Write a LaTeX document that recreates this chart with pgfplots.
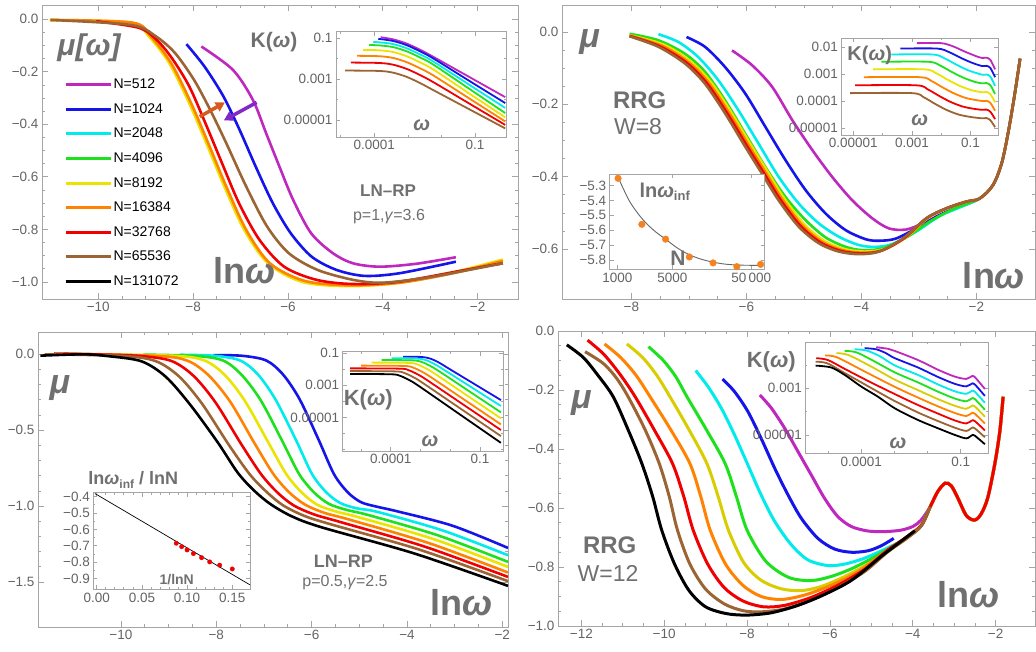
\documentclass[border=0pt]{standalone}
\usepackage{fontspec}
\setmainfont{Liberation Sans}
\usepackage{pgfplots}
\pgfplotsset{compat=1.18}
\usetikzlibrary{arrows.meta}
\newcommand\fs[1]{\fontsize{#1}{#1}\selectfont}
\definecolor{cM}{RGB}{190,40,190}
\definecolor{cB}{RGB}{20,20,235}
\definecolor{cC}{RGB}{0,235,235}
\definecolor{cG}{RGB}{30,225,30}
\definecolor{cY}{RGB}{235,228,0}
\definecolor{cYd}{RGB}{215,205,0}
\definecolor{cO}{RGB}{255,130,0}
\definecolor{cR}{RGB}{240,0,0}
\definecolor{cN}{RGB}{155,100,50}
\definecolor{cK}{RGB}{0,0,0}
\definecolor{txtC}{RGB}{112,112,112}
\definecolor{tickC}{RGB}{100,100,100}
\definecolor{frameC}{RGB}{165,165,165}
\definecolor{arrA}{RGB}{215,90,30}
\definecolor{arrP}{RGB}{130,40,200}
\definecolor{dotO}{RGB}{245,130,30}
\pgfplotsset{
  base/.style={scale only axis, anchor=south west,
    axis line style={draw=frameC, line width=0.9pt},
    every tick/.style={draw=frameC, line width=0.7pt},
    major tick length=6pt, minor tick length=3pt,
    tick label style={text=tickC, font=\fs{13.5}},
    axis background/.style={fill=white}},
  ins/.style={base, major tick length=4pt, minor tick length=2pt},
  L/.style={line width=2.6pt, smooth, no markers},
  Li/.style={line width=1.8pt, smooth, no markers},
}
\begin{document}
\begin{tikzpicture}
\path[use as bounding box] (0pt,0pt) rectangle (1036pt,-652pt);

% ================= Panel A =================
\begin{axis}[base, at={(42pt,-299pt)}, width=476pt, height=294pt,
  xmin=-11.185, xmax=-1.15, ymin=-1.065, ymax=0.054,
  xtick={-10,-8,-6,-4,-2}, xticklabels={−10,−8,−6,−4,−2},
  ytick={0,-0.2,-0.4,-0.6,-0.8,-1}, yticklabels={0.0,−0.2,−0.4,−0.6,−0.8,−1.0},
  minor x tick num=3, minor y tick num=3,
  legend style={draw=none, fill=none, at={(axis description cs:0.046,0.755)}, anchor=north west,
    font=\fs{14}, row sep=9.6pt, inner sep=0pt,
    nodes={inner sep=1.5pt, text height=10pt, text depth=2pt}},
  legend cell align=left,
  legend image code/.code={\draw[#1, line width=3pt] (0pt,0pt) -- (45pt,0pt);}]
\addlegendimage{cM}\addlegendentry{N=512}
\addlegendimage{cB}\addlegendentry{N=1024}
\addlegendimage{cC}\addlegendentry{N=2048}
\addlegendimage{cG}\addlegendentry{N=4096}
\addlegendimage{cY}\addlegendentry{N=8192}
\addlegendimage{cO}\addlegendentry{N=16384}
\addlegendimage{cR}\addlegendentry{N=32768}
\addlegendimage{cN}\addlegendentry{N=65536}
\addlegendimage{cK}\addlegendentry{N=131072}
\addplot[cM, L, forget plot] coordinates {(-7.825,-0.104) (-7.16,-0.193) (-6.74,-0.307) (-6.46,-0.434) (-6.18,-0.561) (-5.89,-0.688) (-5.51,-0.815) (-5.05,-0.891) (-4.63,-0.929) (-4.07,-0.942) (-3.30,-0.931) (-2.46,-0.906)};
\addplot[cB, L, forget plot] coordinates {(-8.14,-0.095) (-7.76,-0.180) (-7.36,-0.294) (-7.02,-0.421) (-6.68,-0.561) (-6.32,-0.700) (-5.94,-0.815) (-5.50,-0.904) (-4.98,-0.954) (-4.39,-0.977) (-3.65,-0.967) (-2.46,-0.923)};
\addplot[cY, L, forget plot] coordinates {(-11.02,-0.003) (-9.32,-0.013) (-8.93,-0.066) (-8.50,-0.168) (-8.08,-0.320) (-7.72,-0.472) (-7.34,-0.637) (-6.92,-0.802) (-6.42,-0.929) (-5.70,-1.000) (-4.75,-1.016) (-3.70,-1.005) (-2.60,-0.967) (-1.47,-0.915)};
\addplot[cO, L, forget plot] coordinates {(-11.02,-0.003) (-9.28,-0.013) (-8.89,-0.066) (-8.46,-0.168) (-8.04,-0.320) (-7.68,-0.472) (-7.30,-0.637) (-6.88,-0.802) (-6.38,-0.929) (-5.65,-0.996) (-4.70,-1.013) (-3.65,-1.003) (-2.60,-0.970) (-1.47,-0.920)};
\addplot[cR, L, forget plot] coordinates {(-10.04,-0.008) (-9.14,-0.033) (-8.76,-0.080) (-8.44,-0.150) (-8.08,-0.256) (-7.74,-0.396) (-7.39,-0.548) (-7.03,-0.701) (-6.60,-0.840) (-6.08,-0.942) (-5.40,-0.992) (-4.63,-1.008) (-3.65,-0.999) (-2.25,-0.954) (-1.47,-0.929)};
\addplot[cN, L, forget plot] coordinates {(-11.0,-0.003) (-9.30,-0.022) (-8.78,-0.066) (-8.38,-0.129) (-7.98,-0.231) (-7.64,-0.345) (-7.30,-0.472) (-6.88,-0.637) (-6.44,-0.789) (-5.98,-0.891) (-5.38,-0.954) (-4.63,-0.992) (-4.00,-1.003) (-2.95,-0.980) (-1.47,-0.929)};
\draw[-{Triangle[length=9pt,width=10pt]}, line width=3.5pt, arrA] (axis cs:-7.86,-0.371) -- (axis cs:-7.33,-0.317);
\draw[-{Triangle[length=9pt,width=10pt]}, line width=3.5pt, arrP] (axis cs:-6.66,-0.317) -- (axis cs:-7.35,-0.385);
\end{axis}

\begin{axis}[ins, at={(336pt,-137pt)}, width=170pt, height=105.3pt,
  xmin=-5.14, xmax=-0.077, ymin=-5.83, ymax=-0.68,
  xtick={-4,-1}, xticklabels={0.0001,0.1}, minor xtick={-5,-3,-2},
  ytick={-1,-3,-5}, yticklabels={0.1,0.001,0.00001}, minor ytick={-2,-4}]
\addplot[cM, Li] coordinates {(-3.81,-0.95) (-3.45,-1.05) (-3.05,-1.25) (-2.65,-1.55) (-2.25,-1.90) (-1.175,-2.89) (-0.10,-3.88)};
\addplot[cB, Li] coordinates {(-3.88,-1.03) (-3.45,-1.13) (-3.05,-1.33) (-2.65,-1.63) (-2.25,-1.98) (-1.175,-3.08) (-0.10,-4.17)};
\addplot[cC, Li] coordinates {(-4.03,-1.18) (-3.85,-1.20) (-3.45,-1.28) (-3.05,-1.48) (-2.65,-1.78) (-2.25,-2.13) (-1.175,-3.27) (-0.10,-4.41)};
\addplot[cG, Li] coordinates {(-4.15,-1.33) (-3.85,-1.35) (-3.45,-1.43) (-3.05,-1.63) (-2.65,-1.93) (-2.25,-2.28) (-1.175,-3.47) (-0.10,-4.66)};
\addplot[cY, Li] coordinates {(-4.33,-1.57) (-3.85,-1.59) (-3.45,-1.67) (-3.05,-1.87) (-2.65,-2.17) (-2.25,-2.52) (-1.175,-3.70) (-0.10,-4.87)};
\addplot[cO, Li] coordinates {(-4.51,-1.86) (-3.85,-1.88) (-3.45,-1.96) (-3.05,-2.16) (-2.65,-2.46) (-2.25,-2.81) (-1.175,-3.94) (-0.10,-5.07)};
\addplot[cR, Li] coordinates {(-4.70,-2.19) (-3.85,-2.21) (-3.45,-2.29) (-3.05,-2.49) (-2.65,-2.79) (-2.25,-3.14) (-1.175,-4.19) (-0.10,-5.24)};
\addplot[cN, Li] coordinates {(-4.87,-2.58) (-3.85,-2.60) (-3.45,-2.68) (-3.05,-2.88) (-2.65,-3.18) (-2.25,-3.53) (-1.175,-4.47) (-0.10,-5.41)};
\end{axis}

% ================= Panel B =================
\begin{axis}[base, at={(562pt,-299pt)}, width=473pt, height=294pt,
  xmin=-9.206, xmax=-0.98, ymin=-0.738, ymax=0.0745,
  xtick={-8,-6,-4,-2}, xticklabels={−8,−6,−4,−2},
  ytick={0,-0.2,-0.4,-0.6}, yticklabels={0.0,−0.2,−0.4,−0.6},
  minor x tick num=3, minor y tick num=3]
\addplot[cM, L] coordinates {(-6.25,-0.051) (-5.90,-0.092) (-5.55,-0.152) (-5.20,-0.244) (-4.85,-0.327) (-4.51,-0.400) (-4.16,-0.465) (-3.81,-0.515) (-3.52,-0.543) (-3.22,-0.546) (-2.93,-0.529) (-2.64,-0.506) (-2.29,-0.481) (-1.94,-0.460) (-1.71,-0.423) (-1.56,-0.363) (-1.45,-0.281) (-1.34,-0.179) (-1.24,-0.074)};
\addplot[cB, L] coordinates {(-7.04,-0.014) (-6.72,-0.041) (-6.37,-0.097) (-6.02,-0.170) (-5.67,-0.262) (-5.32,-0.354) (-4.97,-0.437) (-4.62,-0.502) (-4.27,-0.548) (-3.92,-0.573) (-3.69,-0.577) (-3.40,-0.571) (-2.99,-0.538) (-2.64,-0.506) (-2.29,-0.483) (-1.94,-0.460) (-1.71,-0.423) (-1.56,-0.363) (-1.45,-0.281) (-1.34,-0.179) (-1.24,-0.074)};
\addplot[cC, L] coordinates {(-7.53,-0.006) (-7.18,-0.028) (-6.84,-0.069) (-6.49,-0.133) (-6.14,-0.216) (-5.79,-0.308) (-5.44,-0.400) (-5.09,-0.474) (-4.74,-0.529) (-4.39,-0.566) (-4.04,-0.589) (-3.75,-0.594) (-3.46,-0.586) (-3.05,-0.552) (-2.64,-0.509) (-2.29,-0.485) (-1.94,-0.460) (-1.71,-0.423) (-1.56,-0.363) (-1.45,-0.281) (-1.34,-0.179) (-1.24,-0.074)};
\addplot[cG, L] coordinates {(-8.03,-0.005) (-7.53,-0.023) (-7.07,-0.060) (-6.72,-0.110) (-6.37,-0.189) (-6.02,-0.281) (-5.67,-0.373) (-5.32,-0.456) (-4.97,-0.520) (-4.62,-0.568) (-4.27,-0.594) (-3.98,-0.603) (-3.63,-0.598) (-3.22,-0.568) (-2.82,-0.525) (-2.41,-0.490) (-1.94,-0.460) (-1.71,-0.423) (-1.56,-0.363) (-1.45,-0.281) (-1.34,-0.179) (-1.24,-0.074)};
\addplot[cY, L] coordinates {(-8.03,-0.009) (-7.44,-0.035) (-6.98,-0.080) (-6.63,-0.136) (-6.28,-0.218) (-5.93,-0.310) (-5.64,-0.384) (-5.35,-0.458) (-5.00,-0.531) (-4.65,-0.577) (-4.30,-0.600) (-3.95,-0.607) (-3.60,-0.600) (-3.22,-0.567) (-2.85,-0.515) (-2.52,-0.488) (-2.18,-0.469) (-1.94,-0.460) (-1.71,-0.423) (-1.56,-0.363) (-1.45,-0.281) (-1.34,-0.179) (-1.24,-0.074)};
\addplot[cO, L] coordinates {(-8.03,-0.010) (-7.47,-0.038) (-7.01,-0.083) (-6.66,-0.139) (-6.31,-0.221) (-5.96,-0.313) (-5.67,-0.387) (-5.38,-0.461) (-5.03,-0.534) (-4.68,-0.580) (-4.33,-0.603) (-3.98,-0.610) (-3.63,-0.603) (-3.24,-0.569) (-2.86,-0.515) (-2.53,-0.488) (-2.18,-0.469) (-1.94,-0.460) (-1.71,-0.423) (-1.56,-0.363) (-1.45,-0.281) (-1.34,-0.179) (-1.24,-0.074)};
\addplot[cR, L] coordinates {(-8.03,-0.011) (-7.50,-0.040) (-7.04,-0.085) (-6.69,-0.141) (-6.34,-0.223) (-5.99,-0.315) (-5.70,-0.389) (-5.41,-0.463) (-5.06,-0.536) (-4.71,-0.582) (-4.36,-0.605) (-4.01,-0.612) (-3.66,-0.605) (-3.26,-0.570) (-2.87,-0.515) (-2.53,-0.488) (-2.18,-0.469) (-1.94,-0.460) (-1.71,-0.423) (-1.56,-0.363) (-1.45,-0.281) (-1.34,-0.179) (-1.24,-0.074)};
\addplot[cN, L] coordinates {(-8.03,-0.012) (-7.53,-0.041) (-7.07,-0.087) (-6.72,-0.143) (-6.37,-0.225) (-6.02,-0.317) (-5.73,-0.391) (-5.44,-0.465) (-5.09,-0.538) (-4.74,-0.584) (-4.39,-0.607) (-4.04,-0.614) (-3.69,-0.607) (-3.28,-0.571) (-2.87,-0.515) (-2.53,-0.488) (-2.18,-0.469) (-1.94,-0.460) (-1.71,-0.423) (-1.56,-0.363) (-1.45,-0.281) (-1.34,-0.179) (-1.24,-0.074)};
\end{axis}

\begin{axis}[ins, at={(841.3pt,-135pt)}, width=156.7pt, height=96.7pt,
  xmin=-5.41, xmax=-0.06, ymin=-5.25, ymax=-1.67,
  xtick={-5,-3,-1}, xticklabels={0.00001,0.001,0.1}, minor xtick={-4,-2},
  ytick={-2,-3,-4,-5}, yticklabels={0.01,0.001,0.0001,0.00001}]
\addplot[cM, Li] coordinates {(-2.83,-1.85) (-2.0,-1.85) (-1.6,-1.966) (-1.2,-2.160) (-0.8,-2.335) (-0.6,-2.398) (-0.45,-2.390) (-0.32,-2.470) (-0.16,-2.82)};
\addplot[cB, Li] coordinates {(-3.39,-2.05) (-2.14,-2.05) (-1.74,-2.177) (-1.34,-2.389) (-0.94,-2.58) (-0.6,-2.698) (-0.45,-2.690) (-0.32,-2.770) (-0.16,-3.11)};
\addplot[cC, Li] coordinates {(-3.70,-2.27) (-2.29,-2.27) (-1.89,-2.409) (-1.49,-2.641) (-1.09,-2.85) (-0.6,-3.018) (-0.45,-3.010) (-0.32,-3.090) (-0.16,-3.43)};
\addplot[cG, Li] coordinates {(-4.04,-2.54) (-2.43,-2.54) (-2.03,-2.683) (-1.63,-2.921) (-1.23,-3.135) (-0.83,-3.29) (-0.6,-3.337) (-0.45,-3.329) (-0.32,-3.409) (-0.16,-3.73)};
\addplot[cY, Li] coordinates {(-4.32,-2.82) (-2.57,-2.82) (-2.17,-2.966) (-1.77,-3.21) (-1.37,-3.43) (-0.97,-3.589) (-0.6,-3.668) (-0.45,-3.660) (-0.32,-3.740) (-0.16,-4.04)};
\addplot[cO, Li] coordinates {(-4.64,-3.11) (-2.72,-3.11) (-2.32,-3.259) (-1.92,-3.507) (-1.52,-3.73) (-1.12,-3.891) (-0.6,-3.992) (-0.45,-3.984) (-0.32,-4.064) (-0.16,-4.35)};
\addplot[cR, Li] coordinates {(-4.94,-3.41) (-2.86,-3.41) (-2.46,-3.56) (-2.06,-3.81) (-1.66,-4.035) (-1.26,-4.198) (-0.86,-4.285) (-0.6,-4.318) (-0.45,-4.310) (-0.32,-4.390) (-0.16,-4.66)};
\addplot[cN, Li] coordinates {(-5.11,-3.70) (-3.0,-3.70) (-2.6,-3.851) (-2.2,-4.103) (-1.8,-4.33) (-1.4,-4.494) (-1.0,-4.582) (-0.6,-4.632) (-0.45,-4.624) (-0.32,-4.704) (-0.16,-4.96)};
\end{axis}

\begin{axis}[ins, at={(609.7pt,-269.3pt)}, width=155pt, height=95.3pt,
  xmode=log, xmin=802, xmax=73960, ymin=-5.863, ymax=-5.221,
  xtick={1000,5000,50000}, xticklabels={1000,5000,50\,000},
  ytick={-5.3,-5.4,-5.5,-5.6,-5.7,-5.8}, yticklabels={−5.3,−5.4,−5.5,−5.6,−5.7,−5.8}]
\addplot[black!60, line width=0.9pt, smooth] coordinates {(1000,-5.23) (1414,-5.40) (2048,-5.52) (2896,-5.60) (4096,-5.66) (5793,-5.72) (8192,-5.765) (11585,-5.795) (16384,-5.815) (23170,-5.828) (32768,-5.834) (46341,-5.836) (70000,-5.837)};
\addplot[only marks, mark=*, mark size=3.3pt, mark options={draw=dotO, fill=dotO}] coordinates {(1024,-5.25) (2048,-5.56) (4096,-5.66) (8192,-5.78) (16384,-5.82) (32768,-5.845) (65536,-5.83)};
\end{axis}

% ================= Panel C =================
\begin{axis}[base, at={(38pt,-627pt)}, width=470pt, height=295pt,
  xmin=-11.74, xmax=-1.88, ymin=-1.797, ymax=0.147,
  xtick={-10,-8,-6,-4,-2}, xticklabels={−10,−8,−6,−4,−2},
  ytick={0,-0.5,-1,-1.5}, yticklabels={0.0,−0.5,−1.0,−1.5},
  minor x tick num=3, minor y tick num=4]
\addplot[cB, L] coordinates {(-8.06,-0.005) (-7.45,-0.010) (-6.95,-0.041) (-6.60,-0.133) (-6.25,-0.297) (-5.85,-0.565) (-5.53,-0.79) (-5.24,-0.91) (-4.96,-0.975) (-4.62,-1.005) (-4.20,-1.035) (-3.04,-1.13) (-1.88,-1.276)};
\addplot[cC, L] coordinates {(-8.76,-0.003) (-8.02,-0.010) (-7.49,-0.042) (-7.12,-0.135) (-6.75,-0.302) (-6.32,-0.570) (-5.99,-0.79) (-5.69,-0.91) (-5.40,-0.98) (-5.05,-1.015) (-4.60,-1.04) (-3.24,-1.162) (-1.88,-1.324)};
\addplot[cG, L] coordinates {(-9.53,-0.002) (-8.42,-0.011) (-7.85,-0.042) (-7.46,-0.138) (-7.06,-0.307) (-6.61,-0.575) (-6.26,-0.79) (-5.95,-0.91) (-5.64,-0.985) (-5.27,-1.025) (-4.80,-1.06) (-3.34,-1.194) (-1.88,-1.368)};
\addplot[cY, L] coordinates {(-10.5,0.0) (-8.82,-0.011) (-8.23,-0.043) (-7.81,-0.140) (-7.39,-0.312) (-6.91,-0.580) (-6.53,-0.79) (-6.21,-0.91) (-5.89,-0.99) (-5.50,-1.035) (-5.00,-1.075) (-3.44,-1.218) (-1.88,-1.401)};
\addplot[cO, L] coordinates {(-11.2,0.005) (-9.22,-0.011) (-8.59,-0.044) (-8.15,-0.142) (-7.70,-0.316) (-7.20,-0.585) (-6.80,-0.79) (-6.47,-0.91) (-6.14,-0.99) (-5.73,-1.045) (-5.20,-1.09) (-3.54,-1.244) (-1.88,-1.438)};
\addplot[cR, L] coordinates {(-11.4,0.005) (-10.6,0.0) (-9.60,-0.011) (-8.94,-0.044) (-8.47,-0.144) (-8.01,-0.320) (-7.48,-0.590) (-7.06,-0.79) (-6.72,-0.91) (-6.38,-0.995) (-5.95,-1.055) (-5.40,-1.105) (-3.64,-1.266) (-1.88,-1.467)};
\addplot[cN, L] coordinates {(-11.6,0.0) (-9.96,-0.011) (-9.27,-0.045) (-8.78,-0.146) (-8.30,-0.325) (-7.74,-0.595) (-7.30,-0.79) (-6.95,-0.905) (-6.60,-0.995) (-6.15,-1.065) (-5.60,-1.12) (-3.74,-1.287) (-1.88,-1.495)};
\addplot[cK, L] coordinates {(-11.69,-0.009) (-10.8,0.0) (-10.30,-0.011) (-9.57,-0.046) (-9.06,-0.148) (-8.55,-0.331) (-7.97,-0.58) (-7.55,-0.78) (-7.20,-0.90) (-6.85,-0.99) (-6.40,-1.07) (-5.79,-1.14) (-3.84,-1.313) (-1.88,-1.526)};
\end{axis}

\begin{axis}[ins, at={(342.7pt,-451pt)}, width=160.6pt, height=99.3pt,
  xmin=-5.61, xmax=-0.22, ymin=-7.1, ymax=-0.9,
  xtick={-4,-1}, xticklabels={0.0001,0.1}, minor xtick={-5,-3,-2},
  ytick={-1,-3,-5}, yticklabels={0.1,0.001,0.00001}, minor ytick={-2,-4,-6,-7}]
\addplot[cB, Li] coordinates {(-3.58,-1.21) (-2.97,-1.23) (-2.67,-1.33) (-2.37,-1.59) (-2.07,-1.93) (-1.185,-2.925) (-0.30,-3.92)};
\addplot[cC, Li] coordinates {(-3.97,-1.31) (-3.11,-1.33) (-2.81,-1.43) (-2.51,-1.69) (-2.21,-2.03) (-1.255,-3.16) (-0.30,-4.29)};
\addplot[cG, Li] coordinates {(-4.30,-1.42) (-3.26,-1.44) (-2.96,-1.54) (-2.66,-1.80) (-2.36,-2.14) (-1.33,-3.415) (-0.30,-4.69)};
\addplot[cY, Li] coordinates {(-4.64,-1.58) (-3.40,-1.60) (-3.10,-1.70) (-2.80,-1.96) (-2.50,-2.30) (-1.40,-3.68) (-0.30,-5.06)};
\addplot[cO, Li] coordinates {(-4.99,-1.77) (-3.55,-1.79) (-3.25,-1.89) (-2.95,-2.15) (-2.65,-2.49) (-1.475,-3.965) (-0.30,-5.44)};
\addplot[cR, Li] coordinates {(-5.36,-1.94) (-3.69,-1.96) (-3.39,-2.06) (-3.09,-2.32) (-2.79,-2.66) (-1.545,-4.225) (-0.30,-5.79)};
\addplot[cN, Li] coordinates {(-5.36,-2.11) (-3.84,-2.13) (-3.54,-2.23) (-3.24,-2.49) (-2.94,-2.83) (-1.62,-4.50) (-0.30,-6.17)};
\addplot[cK, Li] coordinates {(-5.36,-2.29) (-3.98,-2.31) (-3.68,-2.41) (-3.38,-2.67) (-3.08,-3.01) (-1.69,-4.80) (-0.30,-6.59)};
\end{axis}

\begin{axis}[ins, at={(93.3pt,-589.3pt)}, width=156.7pt, height=96.6pt,
  xmin=-0.0038, xmax=0.1696, ymin=-0.965, ymax=-0.376,
  xtick={0,0.05,0.1,0.15}, xticklabels={0.00,0.05,0.10,0.15}, minor x tick num=4,
  ytick={-0.4,-0.5,-0.6,-0.7,-0.8,-0.9}, yticklabels={−0.4,−0.5,−0.6,−0.7,−0.8,−0.9}, minor y tick num=1]
\addplot[black, line width=0.7pt] coordinates {(-0.002,-0.381) (0.1696,-0.938)};
\addplot[only marks, mark=*, mark size=2.2pt, mark options={draw=cR, fill=cR}] coordinates {(0.088,-0.684) (0.094,-0.705) (0.100,-0.725) (0.107,-0.747) (0.116,-0.772) (0.125,-0.798) (0.136,-0.818) (0.150,-0.841)};
\end{axis}

% ================= Panel D =================
\begin{axis}[base, at={(558pt,-626pt)}, width=477pt, height=295pt,
  xmin=-12.563, xmax=-1.05, ymin=-1, ymax=0,
  xtick={-12,-10,-8,-6,-4,-2}, xticklabels={−12,−10,−8,−6,−4,−2},
  ytick={0,-0.2,-0.4,-0.6,-0.8,-1}, yticklabels={0.0,−0.2,−0.4,−0.6,−0.8,−1.0},
  minor x tick num=3, minor y tick num=3]
\addplot[cM, L, line width=3pt] coordinates {(-7.69,-0.217) (-7.41,-0.262) (-7.09,-0.330) (-6.77,-0.409) (-6.45,-0.488) (-6.13,-0.567) (-5.81,-0.629) (-5.48,-0.663) (-5.08,-0.678) (-4.68,-0.680) (-4.28,-0.675) (-3.99,-0.662) (-3.80,-0.641) (-3.58,-0.596) (-3.40,-0.545) (-3.22,-0.516) (-3.07,-0.525) (-2.91,-0.567) (-2.71,-0.625) (-2.51,-0.641) (-2.35,-0.620) (-2.19,-0.565) (-2.02,-0.450) (-1.90,-0.341) (-1.82,-0.223)};
\addplot[cB, L, line width=3pt] coordinates {(-8.59,-0.163) (-8.30,-0.206) (-7.98,-0.273) (-7.66,-0.364) (-7.33,-0.466) (-7.01,-0.556) (-6.69,-0.635) (-6.29,-0.703) (-5.89,-0.739) (-5.48,-0.750) (-5.08,-0.745) (-4.76,-0.728) (-4.46,-0.703)};
\addplot[cC, L, line width=3pt] coordinates {(-9.24,-0.134) (-8.94,-0.189) (-8.62,-0.262) (-8.30,-0.353) (-7.98,-0.454) (-7.66,-0.556) (-7.33,-0.646) (-6.93,-0.725) (-6.53,-0.776) (-6.05,-0.795) (-5.64,-0.790) (-5.16,-0.770) (-4.68,-0.740) (-4.28,-0.712) (-3.95,-0.680) (-3.79,-0.658) (-3.58,-0.596) (-3.40,-0.545) (-3.22,-0.516) (-3.07,-0.525) (-2.91,-0.567) (-2.71,-0.625) (-2.51,-0.641) (-2.35,-0.620) (-2.19,-0.565) (-2.02,-0.450) (-1.90,-0.341) (-1.82,-0.223)};
\addplot[cG, L, line width=3pt] coordinates {(-10.38,-0.053) (-10.02,-0.100) (-9.72,-0.155) (-9.45,-0.223) (-8.98,-0.335) (-8.53,-0.449) (-8.26,-0.560) (-8.00,-0.675) (-7.55,-0.780) (-7.00,-0.835) (-6.45,-0.846) (-5.97,-0.832) (-5.48,-0.806) (-5.00,-0.772) (-4.52,-0.733) (-4.12,-0.698) (-3.79,-0.658) (-3.58,-0.596) (-3.40,-0.545) (-3.22,-0.516) (-3.07,-0.525) (-2.91,-0.567) (-2.71,-0.625) (-2.51,-0.641) (-2.35,-0.620) (-2.19,-0.565) (-2.02,-0.450) (-1.90,-0.341) (-1.82,-0.223)};
\addplot[cYd, L, line width=3pt] coordinates {(-10.90,-0.044) (-10.52,-0.090) (-10.18,-0.150) (-9.86,-0.223) (-9.40,-0.335) (-8.97,-0.449) (-8.70,-0.560) (-8.45,-0.675) (-8.08,-0.785) (-7.66,-0.845) (-7.17,-0.874) (-6.69,-0.880) (-6.21,-0.866) (-5.64,-0.832) (-5.08,-0.790) (-4.52,-0.738) (-4.12,-0.700) (-3.79,-0.658) (-3.58,-0.596) (-3.40,-0.545) (-3.22,-0.516) (-3.07,-0.525) (-2.91,-0.567) (-2.71,-0.625) (-2.51,-0.641) (-2.35,-0.620) (-2.19,-0.565) (-2.02,-0.450) (-1.90,-0.341) (-1.82,-0.223)};
\addplot[cO, L, line width=3pt] coordinates {(-11.44,-0.044) (-11.05,-0.090) (-10.68,-0.150) (-10.34,-0.223) (-9.84,-0.335) (-9.38,-0.449) (-9.12,-0.560) (-8.89,-0.675) (-8.52,-0.790) (-8.10,-0.862) (-7.66,-0.900) (-7.17,-0.910) (-6.61,-0.895) (-5.97,-0.862) (-5.32,-0.816) (-4.68,-0.750) (-4.20,-0.703) (-3.79,-0.658) (-3.58,-0.596) (-3.40,-0.545) (-3.22,-0.516) (-3.07,-0.525) (-2.91,-0.567) (-2.71,-0.625) (-2.51,-0.641) (-2.35,-0.620) (-2.19,-0.565) (-2.02,-0.450) (-1.90,-0.341) (-1.82,-0.223)};
\addplot[cR, L, line width=3pt] coordinates {(-11.85,-0.031) (-11.45,-0.080) (-11.05,-0.150) (-10.70,-0.223) (-10.24,-0.335) (-9.80,-0.449) (-9.53,-0.560) (-9.30,-0.675) (-8.95,-0.790) (-8.55,-0.870) (-8.10,-0.915) (-7.60,-0.935) (-7.09,-0.930) (-6.45,-0.903) (-5.81,-0.862) (-5.16,-0.808) (-4.60,-0.742) (-4.12,-0.697) (-3.79,-0.658) (-3.58,-0.596) (-3.40,-0.545) (-3.22,-0.516) (-3.07,-0.525) (-2.91,-0.567) (-2.71,-0.625) (-2.51,-0.641) (-2.35,-0.620) (-2.19,-0.565) (-2.02,-0.450) (-1.90,-0.341) (-1.82,-0.223)};
\addplot[cN, L, line width=3pt] coordinates {(-11.91,-0.070) (-11.47,-0.110) (-11.15,-0.160) (-10.87,-0.223) (-10.46,-0.335) (-10.12,-0.449) (-9.88,-0.560) (-9.68,-0.675) (-9.38,-0.790) (-9.00,-0.875) (-8.55,-0.925) (-8.10,-0.948) (-7.66,-0.952) (-7.09,-0.942) (-6.45,-0.912) (-5.81,-0.870) (-5.16,-0.815) (-4.60,-0.748) (-4.12,-0.700) (-3.79,-0.660) (-3.58,-0.596)};
\addplot[cK, L, line width=3pt] coordinates {(-12.35,-0.047) (-11.95,-0.090) (-11.60,-0.150) (-11.23,-0.223) (-10.87,-0.335) (-10.54,-0.449) (-10.28,-0.560) (-10.06,-0.675) (-9.75,-0.790) (-9.40,-0.880) (-9.00,-0.935) (-8.50,-0.958) (-8.00,-0.963) (-7.41,-0.955) (-6.77,-0.930) (-6.13,-0.893) (-5.48,-0.845) (-4.79,-0.767) (-4.37,-0.722) (-3.95,-0.677)};
\end{axis}

\begin{axis}[ins, at={(805.3pt,-453.3pt)}, width=182.7pt, height=111pt,
  xmin=-5.69, xmax=-0.175, ymin=-5.79, ymax=-1.03,
  xtick={-4,-1}, xticklabels={0.0001,0.1}, minor xtick={-5,-3,-2},
  ytick={-3,-5}, yticklabels={0.001,0.00001}, minor ytick={-2,-4}]
\addplot[cM, Li] coordinates {(-3.55,-1.24) (-3.19,-1.31) (-2.99,-1.40) (-2.29,-1.79) (-1.68,-2.21) (-1.18,-2.50) (-0.83,-2.60) (-0.63,-2.47) (-0.50,-2.64) (-0.27,-3.03)};
\addplot[cB, Li] coordinates {(-3.90,-1.28) (-3.55,-1.33) (-3.25,-1.50) (-2.99,-1.71) (-2.29,-2.11) (-1.68,-2.52) (-1.18,-2.81) (-0.83,-2.92) (-0.63,-2.79) (-0.50,-2.95) (-0.27,-3.33)};
\addplot[cC, Li] coordinates {(-4.20,-1.33) (-3.85,-1.38) (-3.45,-1.62) (-2.99,-2.02) (-2.29,-2.43) (-1.68,-2.84) (-1.18,-3.13) (-0.83,-3.24) (-0.63,-3.10) (-0.50,-3.26) (-0.27,-3.62)};
\addplot[cG, Li] coordinates {(-4.50,-1.40) (-4.15,-1.46) (-3.60,-1.85) (-2.99,-2.32) (-2.29,-2.75) (-1.68,-3.15) (-1.18,-3.44) (-0.83,-3.56) (-0.63,-3.42) (-0.50,-3.57) (-0.27,-3.92)};
\addplot[cYd, Li] coordinates {(-4.75,-1.50) (-4.40,-1.57) (-3.70,-2.07) (-2.99,-2.63) (-2.29,-3.08) (-1.68,-3.47) (-1.18,-3.75) (-0.83,-3.88) (-0.63,-3.74) (-0.50,-3.88) (-0.27,-4.22)};
\addplot[cO, Li] coordinates {(-5.09,-1.60) (-4.74,-1.67) (-3.90,-2.28) (-2.99,-2.94) (-2.29,-3.40) (-1.68,-3.78) (-1.18,-4.06) (-0.83,-4.19) (-0.63,-4.05) (-0.50,-4.19) (-0.27,-4.51)};
\addplot[cR, Li] coordinates {(-5.36,-1.71) (-5.01,-1.79) (-4.50,-2.17) (-3.75,-2.72) (-2.99,-3.25) (-2.29,-3.72) (-1.68,-4.09) (-1.18,-4.38) (-0.83,-4.51) (-0.63,-4.37) (-0.50,-4.50) (-0.27,-4.81)};
\addplot[cN, Li] coordinates {(-5.38,-1.86) (-5.03,-1.93) (-4.50,-2.35) (-4.00,-2.75) (-3.50,-3.15) (-2.99,-3.55) (-2.29,-4.04) (-1.68,-4.41) (-1.18,-4.69) (-0.83,-4.83) (-0.63,-4.68) (-0.50,-4.81) (-0.27,-5.10)};
\addplot[cK, Li] coordinates {(-5.38,-2.03) (-4.91,-2.11) (-4.50,-2.43) (-4.00,-2.93) (-3.50,-3.36) (-2.99,-3.86) (-2.29,-4.36) (-1.68,-4.72) (-1.18,-5.00) (-0.83,-5.15) (-0.63,-5.00) (-0.50,-5.12) (-0.27,-5.40)};
\end{axis}

% ================= Labels =================
\begin{scope}[every node/.style={text=txtC, inner sep=0pt}]
\node[font=\fs{30}\bfseries\itshape] at (89pt,-48pt) {μ[ω]};
\node[font=\fs{36}\bfseries] at (245pt,-271pt) {ln\textit{ω}};
\node[font=\fs{21}\bfseries] at (274pt,-42pt) {K(\textit{ω})};
\node[font=\fs{20}\bfseries\itshape] at (421.7pt,-125pt) {ω};
\node[font=\fs{17}\bfseries] at (388pt,-191pt) {LN–RP};
\node[font=\fs{16}] at (389pt,-217pt) {p=1,\textit{γ}=3.6};

\node[font=\fs{34}\bfseries\itshape] at (589.7pt,-41.7pt) {μ};
\node[font=\fs{24}\bfseries] at (639.7pt,-100pt) {RRG};
\node[font=\fs{23}] at (638pt,-126.7pt) {W=8};
\node[font=\fs{36}\bfseries] at (994pt,-276pt) {ln\textit{ω}};
\node[font=\fs{20}\bfseries] at (869.7pt,-55pt) {K(\textit{ω})};
\node[font=\fs{20}\bfseries\itshape] at (919.7pt,-120pt) {ω};
\node[font=\fs{20}\bfseries] at (664.7pt,-191.7pt) {ln\textit{ω}\raisebox{-0.35ex}{\fs{13}inf}};
\node[font=\fs{21}\bfseries] at (678pt,-258.5pt) {N};

\node[font=\fs{34}\bfseries\itshape] at (60pt,-388.3pt) {μ};
\node[font=\fs{18}\bfseries] at (343.3pt,-561.7pt) {LN–RP};
\node[font=\fs{16}] at (345pt,-582.3pt) {p=0.5,\textit{γ}=2.5};
\node[font=\fs{36}\bfseries] at (461.7pt,-603pt) {ln\textit{ω}};
\node[font=\fs{22}\bfseries] at (368.3pt,-400pt) {K(\textit{ω})};
\node[font=\fs{20}\bfseries\itshape] at (430pt,-441.7pt) {ω};
\node[font=\fs{18}\bfseries] at (133.3pt,-480pt) {ln\textit{ω}\raisebox{-0.35ex}{\fs{12}inf} / lnN};
\node[font=\fs{14}\bfseries] at (176.7pt,-580pt) {1/lnN};

\node[font=\fs{34}\bfseries\itshape] at (581.3pt,-403.3pt) {μ};
\node[font=\fs{24}\bfseries] at (609.7pt,-545pt) {RRG};
\node[font=\fs{23}] at (608pt,-573.3pt) {W=12};
\node[font=\fs{36}\bfseries] at (968.8pt,-595pt) {ln\textit{ω}};
\node[font=\fs{22}\bfseries] at (771.3pt,-361.7pt) {K(\textit{ω})};
\node[font=\fs{20}\bfseries\itshape] at (898pt,-443.3pt) {ω};
\end{scope}
\end{tikzpicture}
\end{document}
